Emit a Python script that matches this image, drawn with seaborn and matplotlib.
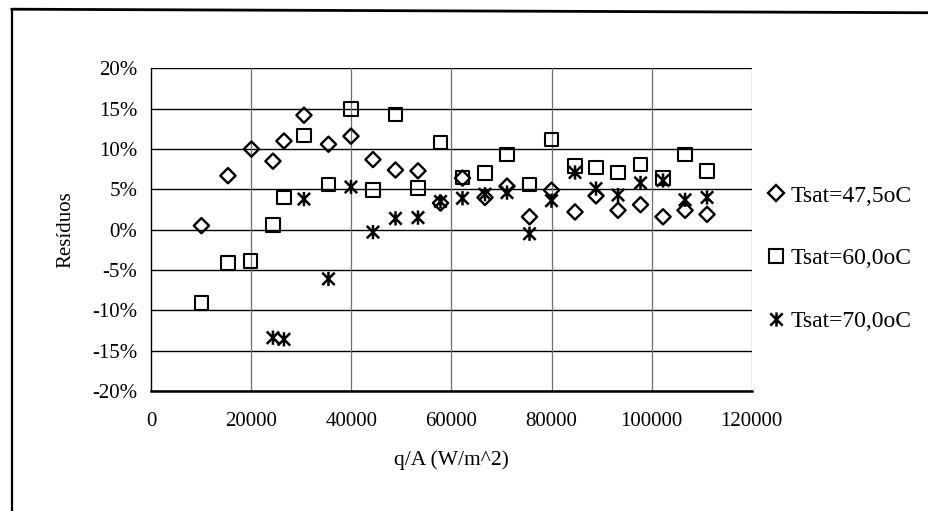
import numpy as np
import pandas as pd
import matplotlib
matplotlib.use("Agg")
import matplotlib.pyplot as plt
from matplotlib.path import Path
from matplotlib.lines import Line2D
from matplotlib.ticker import PercentFormatter
import seaborn as sns

# Heat flux q/A (W/m^2) and residuals (%) for each saturation temperature
q_475 = [10000, 15300, 20000, 24300, 26500, 30500, 35400, 39900, 44300, 48800,
         53300, 57800, 62200, 66700, 71100, 75600, 80000, 84700, 88900, 93300,
         97800, 102300, 106700, 111100]
r_475 = [0.5, 6.7, 10.0, 8.5, 11.0, 14.2, 10.6, 11.6, 8.7, 7.4,
         7.3, 3.3, 6.4, 4.0, 5.4, 1.6, 4.9, 2.2, 4.2, 2.4,
         3.1, 1.6, 2.4, 1.9]

q_600 = [10000, 15300, 19800, 24300, 26500, 30500, 35400, 39900, 44300, 48800,
         53300, 57800, 62200, 66700, 71100, 75600, 80000, 84700, 88900, 93300,
         97800, 102300, 106700, 111100]
r_600 = [-9.1, -4.1, -3.9, 0.6, 4.0, 11.7, 5.6, 15.0, 4.9, 14.3,
         5.2, 10.8, 6.5, 7.0, 9.3, 5.6, 11.2, 7.9, 7.7, 7.1,
         8.1, 6.4, 9.3, 7.3]

q_700 = [24300, 26500, 30500, 35400, 39900, 44300, 48800, 53300, 57800, 62200,
         66700, 71100, 75600, 80000, 84700, 88900, 93300, 97800, 102300, 106700,
         111100]
r_700 = [-13.4, -13.6, 3.8, -6.1, 5.3, -0.3, 1.4, 1.5, 3.5, 3.9,
         4.4, 4.6, -0.5, 3.6, 7.1, 5.1, 4.3, 5.8, 6.1, 3.7,
         4.0]

series_labels = ["Tsat=47,5oC", "Tsat=60,0oC", "Tsat=70,0oC"]
x_ticks = [0, 20000, 40000, 60000, 80000, 100000, 120000]
y_ticks = [-20, -15, -10, -5, 0, 5, 10, 15, 20]

df = pd.concat([
    pd.DataFrame({"q": q_475, "res": r_475, "serie": series_labels[0]}),
    pd.DataFrame({"q": q_600, "res": r_600, "serie": series_labels[1]}),
    pd.DataFrame({"q": q_700, "res": r_700, "serie": series_labels[2]}),
], ignore_index=True)

sns.set_theme(style="white")
plt.rcParams["font.family"] = ["Liberation Serif", "DejaVu Serif"]
plt.rcParams["axes.unicode_minus"] = False

# asterisk-like marker: an X crossed by a vertical bar
star = Path(
    [(-1, -1), (1, 1), (-1, 1), (1, -1), (0, -1.15), (0, 1.15)],
    [Path.MOVETO, Path.LINETO, Path.MOVETO, Path.LINETO, Path.MOVETO, Path.LINETO],
)

fig = plt.figure(figsize=(9.29, 5.11), dpi=100)
ax = fig.add_axes([0.163, 0.235, 0.646, 0.631])

styles = {
    series_labels[0]: dict(marker="D", s=60, linewidth=1.7),
    series_labels[1]: dict(marker="s", s=95, linewidth=1.5),
    series_labels[2]: dict(marker=star, s=105, linewidth=1.8),
}
for lab in series_labels:
    sub = df[df["serie"] == lab]
    sns.scatterplot(data=sub, x="q", y="res", ax=ax, legend=False,
                    facecolor="none", edgecolor="black", zorder=3,
                    **styles[lab])

ax.set_xlim(0, 120000)
ax.set_ylim(-20, 20)
ax.set_xticks(x_ticks)
ax.set_yticks(y_ticks)
ax.yaxis.set_major_formatter(PercentFormatter(decimals=0))
ax.tick_params(axis="both", labelsize=15, colors="black", width=1)
ax.tick_params(axis="y", length=6, direction="out", pad=4)
ax.tick_params(axis="x", length=10, direction="inout", pad=10)

# grid: black horizontal rules, grey vertical rules
ax.grid(False)
for yv in y_ticks:
    ax.axhline(yv, color="black", lw=1.0, zorder=1)
for xv in x_ticks[1:]:
    ax.axvline(xv, color="#6f6f6f", lw=0.9, zorder=1)

for side in ["top", "right"]:
    ax.spines[side].set_visible(False)
ax.spines["left"].set_color("black")
ax.spines["left"].set_linewidth(1.0)
ax.spines["bottom"].set_color("black")
ax.spines["bottom"].set_linewidth(1.8)

ax.set_xlabel("q/A (W/m^2)", fontsize=15.5, color="black", labelpad=14)
ax.set_ylabel("Resíduos", fontsize=15, color="black", labelpad=12)

# legend handles built from the same marker styles
handles = [
    Line2D([], [], ls="none", marker=styles[lab]["marker"],
           markersize=np.sqrt(styles[lab]["s"]), markerfacecolor="none",
           markeredgecolor="black", markeredgewidth=styles[lab]["linewidth"])
    for lab in series_labels
]
leg = ax.legend(handles, series_labels, loc="center left",
                bbox_to_anchor=(0.987, 0.41), frameon=False,
                fontsize=17, handletextpad=0.0, handlelength=1.3,
                labelspacing=1.75, borderaxespad=0.3)
for t in leg.get_texts():
    t.set_color("black")

# outer chart border (left and top edges visible)
fig.add_artist(Line2D([0.0125, 0.0125], [-0.01, 0.982], transform=fig.transFigure,
                      color="black", lw=1.6))
fig.add_artist(Line2D([0.0125, 1.01], [0.982, 0.975], transform=fig.transFigure,
                      color="black", lw=2.0))

fig.savefig("out.png", dpi=100, facecolor="white")
